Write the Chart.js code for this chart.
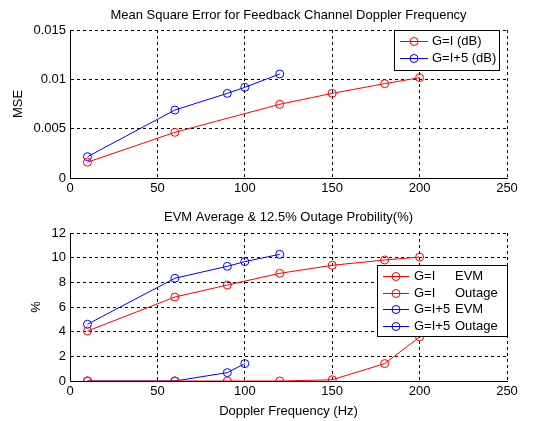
<!DOCTYPE html>
<html>
<head>
<meta charset="utf-8">
<script src="https://cdn.jsdelivr.net/npm/chart.js@4/dist/chart.umd.min.js"></script>
<style>
  html, body { margin: 0; padding: 0; background: #fff; }
  #wrap { position: relative; width: 533px; height: 421px; }
  canvas { position: absolute; left: 0; }
  #c1 { top: 0; }
  #c2 { top: 200px; }
</style>
</head>
<body>
<div id="wrap">
  <canvas id="c1" width="533" height="200"></canvas>
  <canvas id="c2" width="533" height="221"></canvas>
</div>
<script>
// ---- data ----
const xTicks = [0, 50, 100, 150, 200, 250];
const mseTickLabels = ['0', '0.005', '0.01', '0.015'];
const pctTickLabels = ['0', '2', '4', '6', '8', '10', '12'];

const freqRed = [10, 60, 120, 150, 180, 200];
const mseRed = [0.0016, 0.00463, 0.00747, 0.00858, 0.00956, 0.01017];
const freqBlue = [10, 60, 90, 100, 120];
const mseBlue = [0.00216, 0.00689, 0.00858, 0.00919, 0.01054];

const freqRedEvm = [10, 60, 90, 120, 150, 180, 200];
const evmRed = [4.05, 6.81, 7.78, 8.73, 9.38, 9.81, 10.05];
const outRed = [0, 0, 0, 0, 0.1, 1.41, 3.57];
const freqBlueEvm = [10, 60, 90, 100, 120];
const evmBlue = [4.6, 8.33, 9.3, 9.68, 10.27];
const freqBlueOut = [10, 60, 90, 100];
const outBlue = [0, 0, 0.68, 1.41];

const RED = 'rgb(255,0,0)';
const BLUE = 'rgb(0,0,255)';
const FONT = '"Liberation Sans", Arial, sans-serif';
const FS = 13;

function pts(xs, ys) { return xs.map((x, i) => ({ x: x, y: ys[i] })); }

function ds(label, xs, ys, color) {
  return {
    label: label,
    data: pts(xs, ys),
    borderColor: color,
    backgroundColor: 'rgba(0,0,0,0)',
    pointBackgroundColor: 'rgba(0,0,0,0)',
    pointBorderColor: color,
    pointRadius: 4,
    pointHoverRadius: 4,
    pointBorderWidth: 1,
    borderWidth: 1,
    tension: 0,
    fill: false
  };
}

// plugin drawing titles, axis labels, legend
const decor = {
  id: 'decor',
  afterDraw(chart, args, opts) {
    const ctx = chart.ctx;
    const a = chart.chartArea;
    ctx.save();
    ctx.fillStyle = '#000';
    ctx.font = FS + 'px ' + FONT;
    ctx.textAlign = 'center';
    ctx.textBaseline = 'middle';
    ctx.fillText(opts.title, (a.left + a.right) / 2, opts.titleY);
    if (opts.xLabel) ctx.fillText(opts.xLabel, (a.left + a.right) / 2, opts.xLabelY);
    ctx.save();
    ctx.translate(opts.yLabelX, (a.top + a.bottom) / 2);
    ctx.rotate(-Math.PI / 2);
    ctx.fillText(opts.yLabel, 0, 0);
    ctx.restore();
    const L = opts.legend;
    ctx.fillStyle = '#fff';
    ctx.fillRect(L.x, L.y, L.w, L.h);
    ctx.strokeStyle = '#000';
    ctx.lineWidth = 1;
    ctx.strokeRect(L.x + 0.5, L.y + 0.5, L.w - 1, L.h - 1);
    ctx.textAlign = 'left';
    L.items.forEach((it, i) => {
      const cy = Math.round(L.y + L.first + i * L.step) + 0.5;
      ctx.strokeStyle = it.color;
      ctx.beginPath();
      ctx.moveTo(L.x + L.lineX0, cy);
      ctx.lineTo(L.x + L.lineX1, cy);
      ctx.stroke();
      ctx.beginPath();
      ctx.arc(L.x + (L.lineX0 + L.lineX1) / 2, cy, 4, 0, Math.PI * 2);
      ctx.stroke();
      ctx.fillStyle = '#000';
      ctx.fillText(it.a, L.x + L.textX, cy);
      if (it.b) ctx.fillText(it.b, L.x + L.textX2, cy);
    });
    ctx.restore();
  }
};

function scales(yMin, yMax, yStep, yLabels, xHeight) {
  return {
    x: {
      type: 'linear', min: 0, max: 250,
      afterBuildTicks: s => { s.ticks = xTicks.map(v => ({ value: v })); },
      afterFit: s => { s.height = xHeight; },
      grid: { color: '#000', lineWidth: 1, drawTicks: false, tickLength: 0 },
      border: { display: true, color: '#000', width: 1, dash: [3, 3] },
      ticks: { color: '#000', font: { family: FONT, size: FS }, padding: 3, maxRotation: 0, autoSkip: false },
    },
    y: {
      type: 'linear', min: yMin, max: yMax,
      afterBuildTicks: s => { s.ticks = yLabels.map((t, i) => ({ value: yMin + i * yStep })); },
      afterFit: s => { s.width = 70; },
      grid: { color: '#000', lineWidth: 1, drawTicks: false, tickLength: 0 },
      border: { display: true, color: '#000', width: 1, dash: [3, 3] },
      ticks: { color: '#000', font: { family: FONT, size: FS }, padding: 4, autoSkip: false,
        callback: (v, i) => yLabels[i] }
    }
  };
}

Chart.defaults.animation = false;
Chart.defaults.responsive = false;
Chart.defaults.devicePixelRatio = 1;

new Chart(document.getElementById('c1'), {
  type: 'line',
  data: {
    datasets: [
      ds('G=I (dB)', freqRed, mseRed, RED),
      ds('G=I+5 (dB)', freqBlue, mseBlue, BLUE)
    ]
  },
  options: {
    layout: { padding: { left: 0, right: 26, top: 30, bottom: 0 } },
    plugins: {
      legend: { display: false }, tooltip: { enabled: false }, title: { display: false },
      decor: {
        title: 'Mean Square Error for Feedback Channel Doppler Frequency', titleY: 15,
        yLabel: 'MSE', yLabelX: 18,
        legend: { x: 394, y: 30, w: 106, h: 41, first: 11, step: 16.5, lineX0: 6, lineX1: 34, textX: 38,
          items: [ { a: 'G=I (dB)', color: RED }, { a: 'G=I+5 (dB)', color: BLUE } ] }
      }
    },
    scales: scales(0, 0.015, 0.005, mseTickLabels, 22)
  },
  plugins: [decor]
});

new Chart(document.getElementById('c2'), {
  type: 'line',
  data: {
    datasets: [
      ds('G=I EVM', freqRedEvm, evmRed, RED),
      ds('G=I Outage', freqRedEvm, outRed, RED),
      ds('G=I+5 EVM', freqBlueEvm, evmBlue, BLUE),
      ds('G=I+5 Outage', freqBlueOut, outBlue, BLUE)
    ]
  },
  options: {
    layout: { padding: { left: 0, right: 26, top: 33, bottom: 0 } },
    plugins: {
      legend: { display: false }, tooltip: { enabled: false }, title: { display: false },
      decor: {
        title: 'EVM Average & 12.5% Outage Probility(%)', titleY: 17,
        xLabel: 'Doppler Frequency (Hz)', xLabelY: 211,
        yLabel: '%', yLabelX: 36,
        legend: { x: 377, y: 65, w: 131, h: 72, first: 11, step: 16.5, lineX0: 6, lineX1: 32, textX: 37, textX2: 78,
          items: [
            { a: 'G=I', b: 'EVM', color: RED },
            { a: 'G=I', b: 'Outage', color: RED },
            { a: 'G=I+5', b: 'EVM', color: BLUE },
            { a: 'G=I+5', b: 'Outage', color: BLUE }
          ] }
      }
    },
    scales: scales(0, 12, 2, pctTickLabels, 40)
  },
  plugins: [decor]
});
</script>
</body>
</html>
